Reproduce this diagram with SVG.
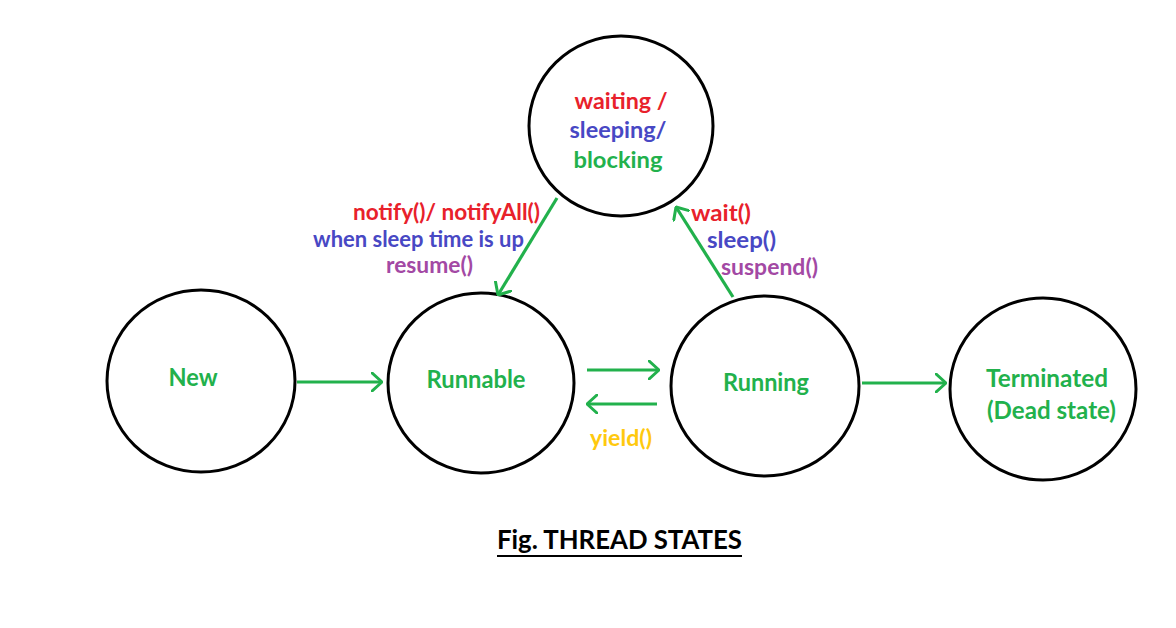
<svg xmlns="http://www.w3.org/2000/svg" width="1176" height="628" viewBox="0 0 1176 628">
<defs>
<marker id="ah" viewBox="0 0 12 20" refX="11" refY="10" markerWidth="12" markerHeight="20" markerUnits="userSpaceOnUse" orient="auto">
<path d="M1,1 L11,10 L1,19" fill="none" stroke="#22b14c" stroke-width="3" stroke-linecap="round" stroke-linejoin="round"/>
</marker>
<style>
.st{fill:#fff;stroke:#000;stroke-width:3}
.t{font-family:Lato,"Open Sans","Liberation Sans",sans-serif;font-weight:bold}
.n{font-size:24px;fill:#22b14c;text-anchor:middle}
.w{font-size:23.5px}
.l{font-size:22px}
.r{fill:#e8212b}.b{fill:#4848c4}.g{fill:#22b14c}.p{fill:#a349a4}.y{fill:#ffc90e}
.c{fill:none;stroke:#22b14c;stroke-width:3.2;marker-end:url(#ah)}
</style>
</defs>
<rect width="1176" height="628" fill="#fff"/>
<g id="waiting">
<ellipse class="st" cx="621" cy="126" rx="92" ry="90"/>
<text class="t n w r" x="621" y="109" textLength="93" lengthAdjust="spacingAndGlyphs">waiting /</text>
<text class="t n w b" x="618" y="138" textLength="97" lengthAdjust="spacingAndGlyphs">sleeping/</text>
<text class="t n w g" x="618" y="168" textLength="89" lengthAdjust="spacingAndGlyphs">blocking</text>
</g>
<g id="new">
<ellipse class="st" cx="201" cy="381" rx="94" ry="91"/>
<text class="t n" x="193" y="386" textLength="49" lengthAdjust="spacingAndGlyphs">New</text>
</g>
<g id="runnable">
<ellipse class="st" cx="481" cy="383" rx="93" ry="90"/>
<text class="t n" x="476" y="388" textLength="99" lengthAdjust="spacingAndGlyphs">Runnable</text>
</g>
<g id="running">
<ellipse class="st" cx="765" cy="386" rx="94" ry="90"/>
<text class="t n" x="766" y="391" textLength="86" lengthAdjust="spacingAndGlyphs">Running</text>
</g>
<g id="terminated">
<ellipse class="st" cx="1043" cy="389" rx="93" ry="91"/>
<text class="t n" x="1047" y="387" textLength="122" lengthAdjust="spacingAndGlyphs">Terminated</text>
<text class="t n" x="1051.5" y="419" textLength="129" lengthAdjust="spacingAndGlyphs">(Dead state)</text>
</g>
<g id="connectors">
<line class="c" x1="297" y1="382" x2="382" y2="382"/>
<line class="c" x1="587" y1="370" x2="659" y2="370"/>
<line class="c" x1="657" y1="404" x2="587" y2="404"/>
<line class="c" x1="862" y1="383" x2="946" y2="383"/>
<line class="c" x1="557" y1="198" x2="498" y2="295"/>
<line class="c" x1="733" y1="297" x2="676" y2="207"/>
</g>
<g id="labels">
<text class="t l r" x="540" y="220" text-anchor="end" textLength="187" lengthAdjust="spacingAndGlyphs">notify()/ notifyAll()</text>
<text class="t l b" x="524" y="247" text-anchor="end" textLength="211" lengthAdjust="spacingAndGlyphs">when sleep time is up</text>
<text class="t l p" x="473" y="273" text-anchor="end" textLength="87" lengthAdjust="spacingAndGlyphs">resume()</text>
<text class="t l r" x="691" y="221" textLength="60" lengthAdjust="spacingAndGlyphs">wait()</text>
<text class="t l b" x="707" y="248" textLength="69" lengthAdjust="spacingAndGlyphs">sleep()</text>
<text class="t l p" x="721" y="275" textLength="97" lengthAdjust="spacingAndGlyphs">suspend()</text>
<text class="t l y" x="590" y="446" textLength="62" lengthAdjust="spacingAndGlyphs">yield()</text>
</g>
<g id="caption">
<text class="t" x="619.5" y="549" font-size="26" text-anchor="middle" fill="#000" textLength="245" lengthAdjust="spacingAndGlyphs">Fig. THREAD STATES</text>
<line x1="497" y1="556" x2="742" y2="556" stroke="#000" stroke-width="2"/>
</g>
</svg>
